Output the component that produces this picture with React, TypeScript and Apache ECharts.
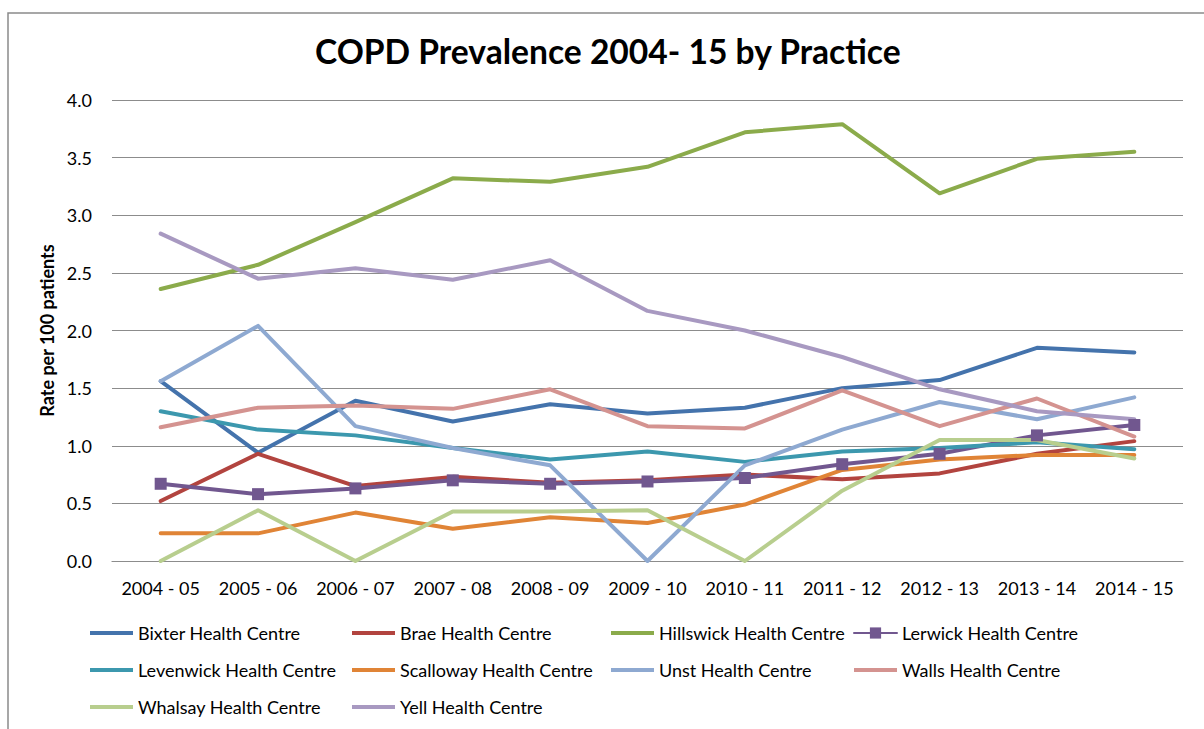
import React, { useEffect, useRef } from "react";
import * as echarts from "echarts";

const categories = ["2004 - 05", "2005 - 06", "2006 - 07", "2007 - 08", "2008 - 09", "2009 - 10", "2010 - 11", "2011 - 12", "2012 - 13", "2013 - 14", "2014 - 15"];
const yTicks = { min: 0, max: 4, interval: 0.5 };

const bixter = [1.56, 0.94, 1.39, 1.21, 1.36, 1.28, 1.33, 1.50, 1.57, 1.85, 1.81];
const brae = [0.52, 0.93, 0.65, 0.73, 0.68, 0.70, 0.75, 0.71, 0.76, 0.93, 1.04];
const hillswick = [2.36, 2.57, 2.94, 3.32, 3.29, 3.42, 3.72, 3.79, 3.19, 3.49, 3.55];
const lerwick = [0.67, 0.58, 0.63, 0.70, 0.67, 0.69, 0.72, 0.84, 0.93, 1.09, 1.18];
const levenwick = [1.30, 1.14, 1.09, 0.98, 0.88, 0.95, 0.86, 0.95, 0.98, 1.03, 0.97];
const scalloway = [0.24, 0.24, 0.42, 0.28, 0.38, 0.33, 0.49, 0.79, 0.88, 0.92, 0.92];
const unst = [1.56, 2.04, 1.17, 0.98, 0.83, 0.0, 0.83, 1.14, 1.38, 1.23, 1.42];
const walls = [1.16, 1.33, 1.35, 1.32, 1.49, 1.17, 1.15, 1.48, 1.17, 1.41, 1.08];
const whalsay = [0.0, 0.44, 0.0, 0.43, 0.43, 0.44, 0.0, 0.61, 1.05, 1.05, 0.89];
const yell = [2.84, 2.45, 2.54, 2.44, 2.61, 2.17, 2.0, 1.77, 1.49, 1.30, 1.23];

const seriesDefs = [
  { name: "Bixter Health Centre", data: bixter, color: "#4473AC" },
  { name: "Brae Health Centre", data: brae, color: "#B2443F" },
  { name: "Hillswick Health Centre", data: hillswick, color: "#8BAB4B" },
  { name: "Lerwick Health Centre", data: lerwick, color: "#71578F", marker: true },
  { name: "Levenwick Health Centre", data: levenwick, color: "#3C98AE" },
  { name: "Scalloway Health Centre", data: scalloway, color: "#E08436" },
  { name: "Unst Health Centre", data: unst, color: "#8EA9D1" },
  { name: "Walls Health Centre", data: walls, color: "#D49390" },
  { name: "Whalsay Health Centre", data: whalsay, color: "#B8CE8E" },
  { name: "Yell Health Centre", data: yell, color: "#A899C1" },
];

const legendColumns = [
  ["Bixter Health Centre", "Levenwick Health Centre", "Whalsay Health Centre"],
  ["Brae Health Centre", "Scalloway Health Centre", "Yell Health Centre"],
  ["Hillswick Health Centre", "Unst Health Centre"],
  ["Lerwick Health Centre", "Walls Health Centre"],
];
const legendLeft = [90, 352, 611, 853];

const FONT = "Lato, 'Noto Sans', sans-serif";
const LINE_ICON = "path://M0,0H100V9.3H0Z";

export default function App() {
  const ref = useRef<HTMLDivElement>(null);
  useEffect(() => {
    document.body.style.margin = "0";
    const chart = echarts.init(ref.current!, null, { renderer: "svg" });
    const markerNames = seriesDefs.filter((s) => s.marker).map((s) => s.name);
    chart.setOption({
      animation: false,
      backgroundColor: "#ffffff",
      textStyle: { fontFamily: FONT },
      title: {
        text: "COPD Prevalence 2004- 15 by Practice",
        left: 310,
        top: 29,
        textStyle: { fontFamily: FONT, fontWeight: "bold", fontSize: 33.6, color: "#000" },
      },
      graphic: [
        {
          type: "rect",
          shape: { x: 8, y: 13, width: 1220, height: 740 },
          style: { fill: "none", stroke: "#8a8a8a", lineWidth: 1.5 },
          silent: true,
        },
      ],
      grid: { left: 112, right: 21, top: 100, bottom: 168 },
      xAxis: {
        type: "category",
        data: categories,
        boundaryGap: true,
        axisLine: { show: true, lineStyle: { color: "#8c8c8c", width: 1.2 } },
        axisTick: { show: false },
        axisLabel: { margin: 18, fontSize: 18, color: "#000", fontFamily: FONT, interval: 0 },
      },
      yAxis: {
        type: "value",
        min: yTicks.min,
        max: yTicks.max,
        interval: yTicks.interval,
        name: "Rate per 100 patients",
        nameLocation: "middle",
        nameRotate: 90,
        nameGap: 56,
        nameTextStyle: { fontFamily: FONT, fontWeight: "bold", fontSize: 18, color: "#000" },
        axisLine: { show: false },
        axisTick: { show: false },
        axisLabel: {
          margin: 20,
          fontSize: 18,
          color: "#000",
          fontFamily: FONT,
          formatter: (v: number) => v.toFixed(1),
        },
        splitLine: { show: true, lineStyle: { color: "#8c8c8c", width: 1.2 } },
      },
      legend: legendColumns.map((col, i) => ({
        data: col.map((name) => (markerNames.includes(name) ? { name } : { name, icon: LINE_ICON })),
        orient: "vertical",
        left: legendLeft[i],
        top: 623,
        padding: 0,
        itemWidth: 43,
        itemHeight: 14,
        itemGap: 17,
        textStyle: { fontFamily: FONT, fontSize: 18, color: "#000", lineHeight: 20 },
      })),
      series: seriesDefs.map((s) => ({
        name: s.name,
        type: "line",
        data: s.data,
        color: s.color,
        symbol: s.marker ? "rect" : "none",
        symbolSize: 12,
        showSymbol: !!s.marker,
        lineStyle: { width: 4, color: s.color, cap: "round", join: "round" },
        itemStyle: { color: s.color },
        emphasis: { disabled: true },
      })),
    });
    return () => chart.dispose();
  }, []);
  return <div ref={ref} style={{ width: 1204, height: 729 }} />;
}
